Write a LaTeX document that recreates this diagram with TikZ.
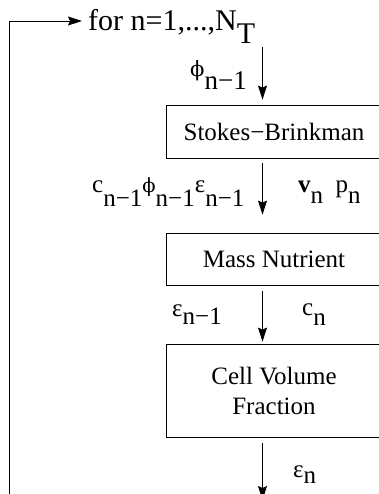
\documentclass[tikz,border=0pt]{standalone}
\usepackage{fontspec}
\setmainfont{Liberation Serif}
\newfontfamily\grkfont{DejaVu Serif}
\usepackage{graphicx}
\usepackage{tikz}
\usetikzlibrary{arrows.meta,positioning}

% lowered subscript, same size as the main text
\newcommand{\lowsub}[2][13pt]{\raisebox{-#1}{#2}}
\newcommand{\fiphi}{\scalebox{0.78}{\grkfont ϕ}}

\begin{document}
\begin{tikzpicture}[x=1pt,y=-1pt,
    font=\fontsize{25}{30}\selectfont,
    blk/.style={draw, line width=0.8pt, minimum width=216pt, align=center, inner sep=0pt},
    lbl/.style={anchor=base west, inner sep=0pt},
    flow/.style={-{Stealth[length=14pt,width=9pt,inset=2pt]}, line width=0.8pt}]
    \clip (0,0) rectangle (379,494);

    % solver blocks
    \node[blk, minimum height=53pt] (stokes) at (274,131.5) {Stokes−Brinkman};
    \node[blk, minimum height=52pt] (mass) at (274,259) {Mass Nutrient};
    \node[blk, minimum height=93pt] (cell) at (274,390.5) {Cell Volume\\Fraction};

    % labels
    \node[lbl, font=\fontsize{30}{36}\selectfont] (loop) at (88,31) {for n=1,...,N\lowsub[13pt]{T}};
    \node[lbl, font=\fontsize{27}{32}\selectfont] (phiold) at (190,77) {\fiphi\lowsub[13pt]{n−1}};
    \node[lbl] (inold) at (92,192) {c\lowsub[14pt]{n−1}\fiphi\lowsub[14pt]{n−1}ε\lowsub[14pt]{n−1}};
    \node[lbl] (vp) at (298,192) {\textbf{v}\lowsub[12pt]{n}\ \ p\lowsub[12pt]{n}};
    \node[lbl] (epsold) at (172,316) {ε\lowsub[8pt]{n−1}};
    \node[lbl] (cnew) at (302,315) {c\lowsub[10pt]{n}};
    \node[lbl] (epsnew) at (293,477) {ε\lowsub[6pt]{n}};

    \coordinate (bottom) at (262.5,500);
    \coordinate (back) at (9,494);

    % flow between blocks
    \draw[flow, shorten <=3pt, shorten >=5pt] ([xshift=-11.5pt]stokes.north |- loop.south) -- ([xshift=-11.5pt]stokes.north);
    \draw[flow, shorten <=5pt, shorten >=18pt] ([xshift=-11.5pt]stokes.south) -- ([xshift=-11.5pt]mass.north);
    \draw[flow, shorten <=6pt, shorten >=2pt] ([xshift=-11.5pt]mass.south) -- ([xshift=-11.5pt]cell.north);
    \draw[flow, shorten <=6pt] ([xshift=-11.5pt]cell.south) -- (bottom);
    % time loop
    \draw[flow, shorten >=6pt] (back) |- ([yshift=10pt]loop.base west);
\end{tikzpicture}
\end{document}
